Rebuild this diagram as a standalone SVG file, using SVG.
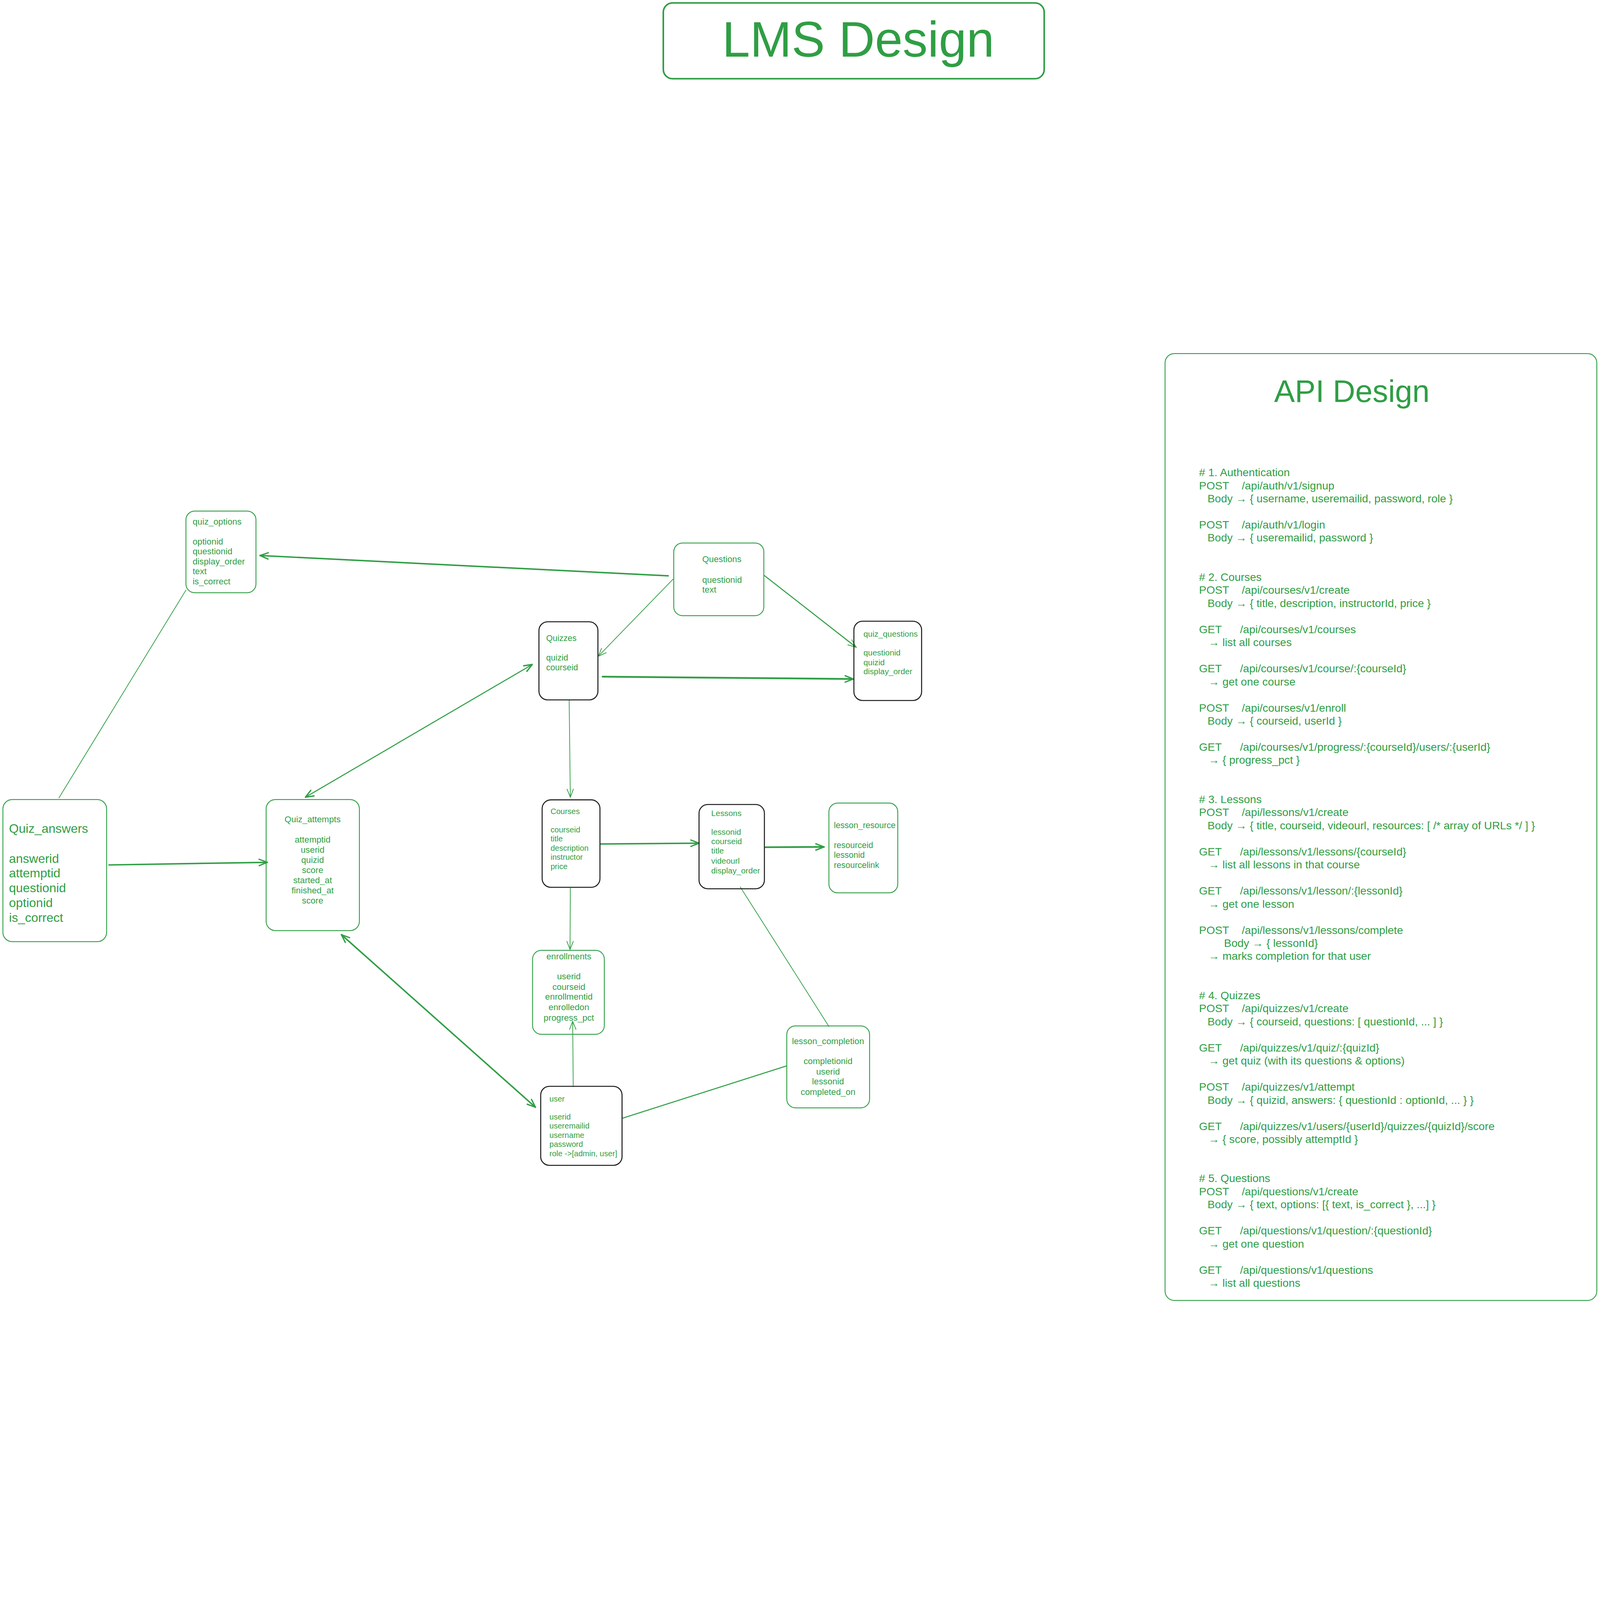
<svg xmlns="http://www.w3.org/2000/svg" width="5507" height="4494" viewBox="0 0 5507 4494" preserveAspectRatio="xMinYMin meet" style="max-width:100vw;max-height:100vh;display:block">
<style>
.bg{fill:#ffffff}
.bx{fill:none;stroke:#2f9e44;stroke-width:3}
.bk{fill:none;stroke:#1e1e1e;stroke-width:3.5}
.t{font-family:"Liberation Sans",Arial,sans-serif;fill:#2f9e44}
.c{fill:none;stroke:#2f9e44;stroke-linecap:round}
.w2{stroke-width:2.5}
.w3{stroke-width:3.5}
.w5{stroke-width:5}
.w6{stroke-width:6}
</style>
<defs>
<marker id="ah" viewBox="0 0 34 28" refX="31" refY="14" markerWidth="34" markerHeight="28" markerUnits="userSpaceOnUse" orient="auto-start-reverse">
<path d="M3,3 L31,14 L3,25" fill="none" stroke="#2f9e44" stroke-width="4.5" stroke-linecap="round" stroke-linejoin="round"/>
</marker>
<marker id="aht" viewBox="0 0 34 28" refX="31" refY="14" markerWidth="34" markerHeight="28" markerUnits="userSpaceOnUse" orient="auto-start-reverse">
<path d="M3,3 L31,14 L3,25" fill="none" stroke="#2f9e44" stroke-width="2.5" stroke-linecap="round" stroke-linejoin="round"/>
</marker>
</defs>
<rect class="bg" x="0" y="0" width="5507" height="4494"/>

<g id="title">
<rect x="2283" y="10" width="1311" height="261" rx="32" fill="none" stroke="#2f9e44" stroke-width="5.5"/>
<text class="t" x="2954" y="195" font-size="172" text-anchor="middle">LMS Design</text>
</g>

<g id="connectors">
<path class="c w5" d="M2300,1982 L895,1912" marker-end="url(#ah)"/>
<path class="c w2" d="M2317,1993 L2059,2259" marker-end="url(#aht)"/>
<path class="c w3" d="M2631,1981 L2947,2228" marker-end="url(#aht)"/>
<path class="c w6" d="M2074,2329 L2937,2337" marker-end="url(#ah)"/>
<path class="c w2" d="M1959,2410 L1963,2744" marker-end="url(#aht)"/>
<path class="c w3" d="M1832,2287 L1051,2744" marker-start="url(#ah)" marker-end="url(#ah)"/>
<path class="c w5" d="M375,2977 L920,2968" marker-end="url(#ah)"/>
<path class="c w2" d="M640,2031 L203,2746"/>
<path class="c w5" d="M1175,3217 L1843,3811" marker-start="url(#ah)" marker-end="url(#ah)"/>
<path class="c w5" d="M2067,2905 L2406,2902" marker-end="url(#ah)"/>
<path class="c w6" d="M2635,2916 L2836,2915" marker-end="url(#ah)"/>
<path class="c w2" d="M1963,3057 L1962,3268" marker-end="url(#aht)"/>
<path class="c w2" d="M1973,3737 L1971,3515" marker-end="url(#aht)"/>
<path class="c w2" d="M2548,3053 L2853,3533"/>
<path class="c w3" d="M2142,3849 L2706,3669"/>
</g>

<g id="quiz_options">
<rect class="bx" x="640" y="1759" width="241" height="281" rx="30"/>
<text class="t" font-size="30"><tspan x="663" y="1805">quiz_options</tspan><tspan x="663" y="1874">optionid</tspan><tspan x="663" y="1908">questionid</tspan><tspan x="663" y="1943">display_order</tspan><tspan x="663" y="1977">text</tspan><tspan x="663" y="2012">is_correct</tspan></text>
</g>

<g id="questions">
<rect class="bx" x="2319" y="1869" width="310" height="250" rx="30"/>
<text class="t" font-size="30"><tspan x="2417" y="1935">Questions</tspan><tspan x="2417" y="2006">questionid</tspan><tspan x="2417" y="2040">text</tspan></text>
</g>

<g id="quizzes">
<rect class="bk" x="1855" y="2140" width="203" height="269" rx="30"/>
<text class="t" font-size="29"><tspan x="1880" y="2206">Quizzes</tspan><tspan x="1880" y="2273">quizid</tspan><tspan x="1880" y="2307">courseid</tspan></text>
</g>

<g id="quiz_questions">
<rect class="bk" x="2939" y="2138" width="233" height="273" rx="30"/>
<text class="t" font-size="28"><tspan x="2972" y="2191">quiz_questions</tspan><tspan x="2972" y="2256">questionid</tspan><tspan x="2972" y="2289">quizid</tspan><tspan x="2972" y="2321">display_order</tspan></text>
</g>

<g id="quiz_answers">
<rect class="bx" x="10" y="2752" width="357" height="489" rx="32"/>
<text class="t" font-size="43"><tspan x="31" y="2867">Quiz_answers</tspan><tspan x="31" y="2970">answerid</tspan><tspan x="31" y="3020">attemptid</tspan><tspan x="31" y="3071">questionid</tspan><tspan x="31" y="3122">optionid</tspan><tspan x="31" y="3173">is_correct</tspan></text>
</g>

<g id="quiz_attempts">
<rect class="bx" x="916" y="2752" width="321" height="451" rx="32"/>
<text class="t" font-size="30" text-anchor="middle"><tspan x="1076" y="2830">Quiz_attempts</tspan><tspan x="1076" y="2900">attemptid</tspan><tspan x="1076" y="2935">userid</tspan><tspan x="1076" y="2970">quizid</tspan><tspan x="1076" y="3005">score</tspan><tspan x="1076" y="3040">started_at</tspan><tspan x="1076" y="3075">finished_at</tspan><tspan x="1076" y="3110">score</tspan></text>
</g>

<g id="courses">
<rect class="bk" x="1866" y="2753" width="199" height="301" rx="30"/>
<text class="t" font-size="27"><tspan x="1895" y="2802">Courses</tspan><tspan x="1895" y="2865">courseid</tspan><tspan x="1895" y="2896">title</tspan><tspan x="1895" y="2928">description</tspan><tspan x="1895" y="2959">instructor</tspan><tspan x="1895" y="2992">price</tspan></text>
</g>

<g id="lessons">
<rect class="bk" x="2406" y="2769" width="225" height="290" rx="30"/>
<text class="t" font-size="28"><tspan x="2448" y="2808">Lessons</tspan><tspan x="2448" y="2873">lessonid</tspan><tspan x="2448" y="2905">courseid</tspan><tspan x="2448" y="2938">title</tspan><tspan x="2448" y="2972">videourl</tspan><tspan x="2448" y="3006">display_order</tspan></text>
</g>

<g id="lesson_resource">
<rect class="bx" x="2853" y="2764" width="237" height="309" rx="30"/>
<text class="t" font-size="29"><tspan x="2870" y="2850">lesson_resource</tspan><tspan x="2870" y="2919">resourceid</tspan><tspan x="2870" y="2953">lessonid</tspan><tspan x="2870" y="2988">resourcelink</tspan></text>
</g>

<g id="enrollments">
<rect class="bx" x="1833" y="3271" width="247" height="289" rx="30"/>
<text class="t" font-size="30" text-anchor="middle"><tspan x="1958" y="3302">enrollments</tspan><tspan x="1958" y="3371">userid</tspan><tspan x="1958" y="3407">courseid</tspan><tspan x="1958" y="3441">enrollmentid</tspan><tspan x="1958" y="3477">enrolledon</tspan><tspan x="1958" y="3513">progress_pct</tspan></text>
</g>

<g id="user">
<rect class="bk" x="1861" y="3739" width="280" height="272" rx="30"/>
<text class="t" font-size="27"><tspan x="1891" y="3791">user</tspan><tspan x="1891" y="3853">userid</tspan><tspan x="1891" y="3884">useremailid</tspan><tspan x="1891" y="3916">username</tspan><tspan x="1891" y="3948">password</tspan><tspan x="1891" y="3980">role -&gt;[admin, user]</tspan></text>
</g>

<g id="lesson_completion">
<rect class="bx" x="2708" y="3531" width="285" height="282" rx="30"/>
<text class="t" font-size="30" text-anchor="middle"><tspan x="2850" y="3594">lesson_completion</tspan><tspan x="2850" y="3663">completionid</tspan><tspan x="2850" y="3698">userid</tspan><tspan x="2850" y="3732">lessonid</tspan><tspan x="2850" y="3769">completed_on</tspan></text>
</g>

<g id="api_design">
<rect class="bx" x="4010" y="1217" width="1486" height="3259" rx="32"/>
<text class="t" x="4653" y="1383" font-size="107" text-anchor="middle">API Design</text>
<text class="t" font-size="38">
<tspan x="4127" y="1639"># 1. Authentication</tspan>
<tspan x="4127" y="1684">POST</tspan><tspan x="4274" y="1684">/api/auth/v1/signup</tspan>
<tspan x="4156" y="1729">Body → { username, useremailid, password, role }</tspan>
<tspan x="4127" y="1819">POST</tspan><tspan x="4274" y="1819">/api/auth/v1/login</tspan>
<tspan x="4156" y="1864">Body → { useremailid, password }</tspan>
<tspan x="4127" y="1999"># 2. Courses</tspan>
<tspan x="4127" y="2044">POST</tspan><tspan x="4274" y="2044">/api/courses/v1/create</tspan>
<tspan x="4156" y="2089">Body → { title, description, instructorId, price }</tspan>
<tspan x="4127" y="2179">GET</tspan><tspan x="4268" y="2179">/api/courses/v1/courses</tspan>
<tspan x="4159" y="2224">→ list all courses</tspan>
<tspan x="4127" y="2314">GET</tspan><tspan x="4268" y="2314">/api/courses/v1/course/:{courseId}</tspan>
<tspan x="4159" y="2359">→ get one course</tspan>
<tspan x="4127" y="2449">POST</tspan><tspan x="4274" y="2449">/api/courses/v1/enroll</tspan>
<tspan x="4156" y="2494">Body → { courseid, userId }</tspan>
<tspan x="4127" y="2584">GET</tspan><tspan x="4268" y="2584">/api/courses/v1/progress/:{courseId}/users/:{userId}</tspan>
<tspan x="4159" y="2629">→ { progress_pct }</tspan>
<tspan x="4127" y="2764"># 3. Lessons</tspan>
<tspan x="4127" y="2809">POST</tspan><tspan x="4274" y="2809">/api/lessons/v1/create</tspan>
<tspan x="4156" y="2854">Body → { title, courseid, videourl, resources: [ /* array of URLs */ ] }</tspan>
<tspan x="4127" y="2944">GET</tspan><tspan x="4268" y="2944">/api/lessons/v1/lessons/{courseId}</tspan>
<tspan x="4159" y="2989">→ list all lessons in that course</tspan>
<tspan x="4127" y="3079">GET</tspan><tspan x="4268" y="3079">/api/lessons/v1/lesson/:{lessonId}</tspan>
<tspan x="4159" y="3124">→ get one lesson</tspan>
<tspan x="4127" y="3214">POST</tspan><tspan x="4274" y="3214">/api/lessons/v1/lessons/complete</tspan>
<tspan x="4213" y="3259">Body → { lessonId}</tspan>
<tspan x="4159" y="3304">→ marks completion for that user</tspan>
<tspan x="4127" y="3439"># 4. Quizzes</tspan>
<tspan x="4127" y="3484">POST</tspan><tspan x="4274" y="3484">/api/quizzes/v1/create</tspan>
<tspan x="4156" y="3529">Body → { courseid, questions: [ questionId, ... ] }</tspan>
<tspan x="4127" y="3619">GET</tspan><tspan x="4268" y="3619">/api/quizzes/v1/quiz/:{quizId}</tspan>
<tspan x="4159" y="3664">→ get quiz (with its questions &amp; options)</tspan>
<tspan x="4127" y="3754">POST</tspan><tspan x="4274" y="3754">/api/quizzes/v1/attempt</tspan>
<tspan x="4156" y="3799">Body → { quizid, answers: { questionId : optionId, ... } }</tspan>
<tspan x="4127" y="3889">GET</tspan><tspan x="4268" y="3889">/api/quizzes/v1/users/{userId}/quizzes/{quizId}/score</tspan>
<tspan x="4159" y="3934">→ { score, possibly attemptId }</tspan>
<tspan x="4127" y="4069"># 5. Questions</tspan>
<tspan x="4127" y="4114">POST</tspan><tspan x="4274" y="4114">/api/questions/v1/create</tspan>
<tspan x="4156" y="4159">Body → { text, options: [{ text, is_correct }, ...] }</tspan>
<tspan x="4127" y="4249">GET</tspan><tspan x="4268" y="4249">/api/questions/v1/question/:{questionId}</tspan>
<tspan x="4159" y="4294">→ get one question</tspan>
<tspan x="4127" y="4384">GET</tspan><tspan x="4268" y="4384">/api/questions/v1/questions</tspan>
<tspan x="4159" y="4429">→ list all questions</tspan>
</text>
</g>
</svg>
